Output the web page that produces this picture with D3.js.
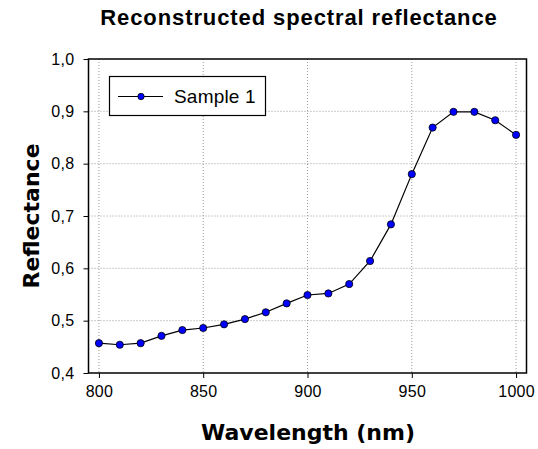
<!DOCTYPE html>
<html><head><meta charset="utf-8">
<script src="https://cdn.jsdelivr.net/npm/d3@7"></script>
<style>body{margin:0;background:#fff}</style>
</head><body>
<script>
const wavelengths = [800,810,820,830,840,850,860,870,880,890,900,910,920,930,940,950,960,970,980,990,1000];
const reflectance = [0.457,0.454,0.457,0.471,0.482,0.486,0.493,0.503,0.516,0.533,0.549,0.552,0.570,0.614,0.684,0.780,0.869,0.899,0.899,0.883,0.855];
const xTicks = [800,850,900,950,1000];
const yTicks = [0.4,0.5,0.6,0.7,0.8,0.9,1.0];
const seriesName = "Sample 1";

const W=538,H=449;
const svg=d3.select("body").append("svg").attr("width",W).attr("height",H);
const L=88.5,R=526.5,T=59,B=373;
const x=d3.scaleLinear().domain([795,1005]).range([L,R]);
const y=d3.scaleLinear().domain([0.4,1.0]).range([B,T]);
const font="Arial, 'Liberation Sans', sans-serif";
const font2="'DejaVu Sans', Verdana, sans-serif";

// grid
svg.append("g").selectAll("line").data(xTicks).join("line")
 .attr("x1",d=>x(d)).attr("x2",d=>x(d)).attr("y1",T).attr("y2",B)
 .attr("stroke","#999").attr("stroke-dasharray","1,2").attr("stroke-width",1);
svg.append("g").selectAll("line").data(yTicks.slice(1,-1)).join("line")
 .attr("x1",L).attr("x2",R).attr("y1",d=>y(d)).attr("y2",d=>y(d))
 .attr("stroke","#999").attr("stroke-dasharray","1,2").attr("stroke-width",1);

// axes
const fmt=d=>d3.format(".1f")(d).replace(".",",");
const xa=svg.append("g").attr("transform",`translate(0,${B})`)
 .call(d3.axisBottom(x).tickValues(xTicks).tickFormat(d3.format("d")).tickSize(5).tickSizeOuter(0).tickPadding(8));
const ya=svg.append("g").attr("transform",`translate(${L},0)`)
 .call(d3.axisLeft(y).tickValues(yTicks).tickFormat(fmt).tickSize(5).tickSizeOuter(0).tickPadding(9));
[xa,ya].forEach(a=>{a.selectAll("text").attr("font-family",font).attr("font-size",16).attr("letter-spacing",0.3).attr("fill","#000");
 a.selectAll("line").attr("stroke","#000");a.select(".domain").attr("stroke","none");});
// frame
svg.append("rect").attr("x",L).attr("y",T).attr("width",R-L).attr("height",B-T)
 .attr("fill","none").attr("stroke","#000").attr("stroke-width",1.5);

// line
svg.append("path").datum(wavelengths.map((w,i)=>[w,reflectance[i]]))
 .attr("d",d3.line().x(d=>x(d[0])).y(d=>y(d[1])))
 .attr("fill","none").attr("stroke","#000").attr("stroke-width",1.2);
svg.append("g").selectAll("circle").data(wavelengths.map((w,i)=>[w,reflectance[i]])).join("circle")
 .attr("cx",d=>x(d[0])).attr("cy",d=>y(d[1])).attr("r",3.6)
 .attr("fill","#0000ff").attr("stroke","#000").attr("stroke-width",0.8);

// legend
const lg=svg.append("g");
lg.append("rect").attr("x",109.5).attr("y",76.5).attr("width",156).attr("height",39)
 .attr("fill","#fff").attr("stroke","#000").attr("stroke-width",1.2);
lg.append("line").attr("x1",118).attr("x2",163).attr("y1",96.5).attr("y2",96.5).attr("stroke","#000").attr("stroke-width",1.2);
lg.append("circle").attr("cx",141).attr("cy",96.5).attr("r",3.2).attr("fill","#0000ff").attr("stroke","#000").attr("stroke-width",0.8);
lg.append("text").attr("x",174).attr("y",103).text(seriesName)
 .attr("font-family",font).attr("font-size",19).attr("letter-spacing",0.2);

// titles
svg.append("text").attr("x",299).attr("y",25).attr("text-anchor","middle")
 .attr("font-family",font).attr("font-weight","bold").attr("font-size",22).attr("letter-spacing",0.9)
 .text("Reconstructed spectral reflectance");
svg.append("text").attr("x",308).attr("y",440).attr("text-anchor","middle")
 .attr("font-family",font2).attr("font-weight","bold").attr("font-size",22)
 .text("Wavelength (nm)");
svg.append("text").attr("transform","translate(39,216) rotate(-90)").attr("text-anchor","middle")
 .attr("font-family",font2).attr("font-weight","bold").attr("font-size",22)
 .text("Reflectance");
</script>
</body></html>
